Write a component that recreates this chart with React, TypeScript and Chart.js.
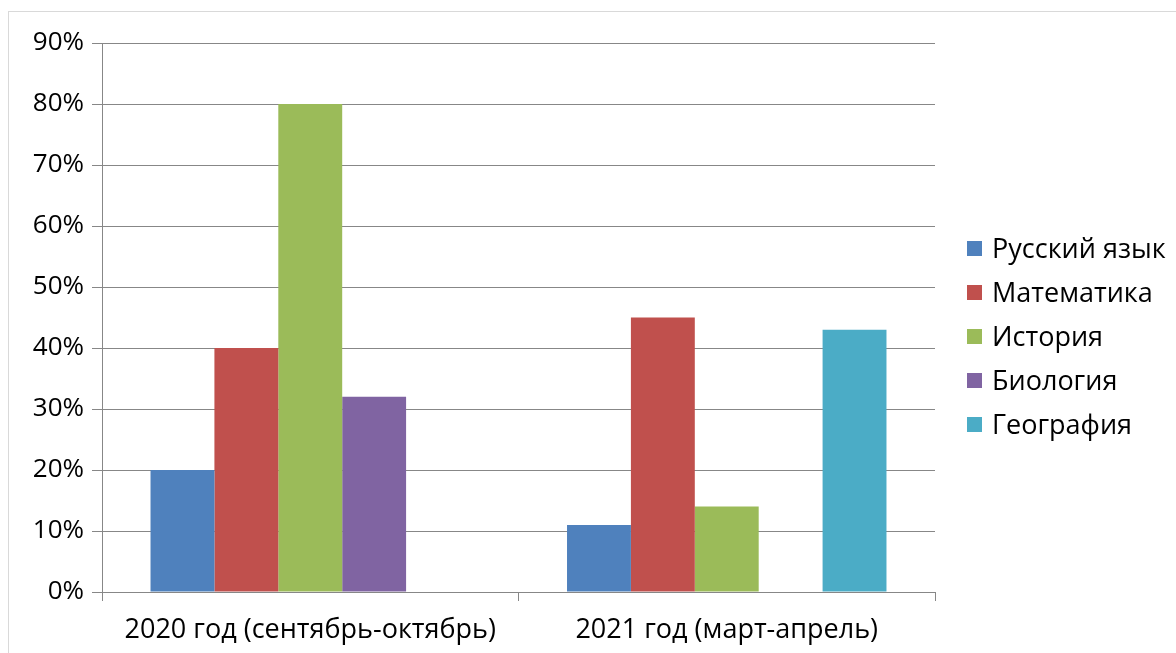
import React, { useEffect, useRef } from "react";
import { Chart, registerables } from "chart.js";

Chart.register(...registerables);

const categories = ["2020 год (сентябрь-октябрь)", "2021 год (март-апрель)"];
const seriesNames = ["Русский язык", "Математика", "История", "Биология", "География"];
const seriesColors = ["#4F81BD", "#C0504D", "#9BBB59", "#8064A2", "#4BACC6"];
const russian = [20, 11];
const math = [40, 45];
const history = [80, 14];
const biology = [32, null];
const geography = [null, 43];
const seriesValues = [russian, math, history, biology, geography];

const FONT = "'Open Sans', 'Noto Sans', sans-serif";
const GRID = "#878787";

export default function App() {
  const ref = useRef<HTMLCanvasElement | null>(null);

  useEffect(() => {
    if (!ref.current) return;
    const chart = new Chart(ref.current, {
      type: "bar",
      data: {
        labels: categories,
        datasets: seriesNames.map((name, i) => ({
          label: name,
          data: seriesValues[i],
          backgroundColor: seriesColors[i],
          borderWidth: 0,
          barPercentage: 1,
          categoryPercentage: 0.767,
        })),
      },
      options: {
        animation: false,
        responsive: false,
        maintainAspectRatio: false,
        layout: { padding: { top: 31, left: 0, right: 241, bottom: 0 } },
        plugins: { legend: { display: false }, tooltip: { enabled: false } },
        scales: {
          x: {
            afterFit: (s: any) => { s.height = 61; },
            grid: { drawOnChartArea: false, drawTicks: true, tickLength: 9, color: GRID, lineWidth: 1 },
            border: { color: GRID, width: 1 },
            ticks: { color: "#000", font: { family: FONT, size: 27 }, padding: 13, maxRotation: 0 },
          },
          y: {
            min: 0,
            max: 90,
            afterFit: (s: any) => { s.width = 93; },
            grid: { color: GRID, lineWidth: 1, tickLength: 10 },
            border: { color: GRID, width: 1 },
            ticks: {
              stepSize: 10,
              color: "#000",
              font: { family: FONT, size: 26 },
              padding: 8,
              callback: (v: any) => `${v}%`,
            },
          },
        },
      },
    });
    return () => chart.destroy();
  }, []);

  return (
    <div>
      <div
        style={{
          position: "fixed",
          left: 8,
          top: 11,
          width: 1300,
          height: 800,
          border: "1px solid #d9d9d9",
          boxSizing: "border-box",
          background: "#fff",
        }}
      />
      <canvas
        ref={ref}
        width={1167}
        height={641}
        style={{ position: "fixed", left: 9, top: 12, width: 1167, height: 641 }}
      />
      <div style={{ position: "fixed", left: 967, top: 226, fontFamily: FONT, fontSize: 27, color: "#000" }}>
        {seriesNames.map((name, i) => (
          <div key={name} style={{ display: "flex", alignItems: "center", height: 44 }}>
            <span style={{ width: 15, height: 15, background: seriesColors[i], marginRight: 10, display: "inline-block", flexShrink: 0 }} />
            <span style={{ lineHeight: "44px", whiteSpace: "nowrap" }}>{name}</span>
          </div>
        ))}
      </div>
    </div>
  );
}
